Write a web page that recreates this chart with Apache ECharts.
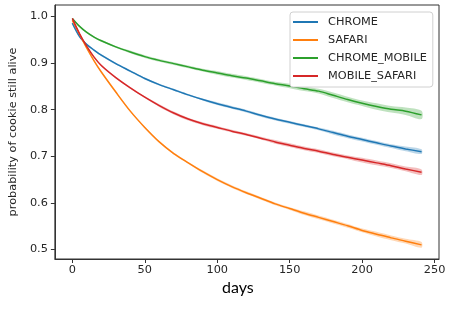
<!DOCTYPE html>
<html><head><meta charset="utf-8">
<script src="https://cdn.jsdelivr.net/npm/echarts@6/dist/echarts.min.js"></script>
<style>html,body{margin:0;padding:0;background:#fff}#c{width:463px;height:311px}</style>
</head><body><div id="c"></div>
<script>
const days = [0,5,10,15,20,30,40,50,60,70,80,90,100,110,120,130,140,150,160,170,180,190,200,210,220,230,241];
const chrome = [0.986,0.957,0.940,0.928,0.917,0.899,0.883,0.867,0.854,0.843,0.832,0.822,0.813,0.805,0.797,0.788,0.780,0.773,0.766,0.759,0.751,0.743,0.736,0.729,0.722,0.716,0.710];
const safari = [0.992,0.962,0.932,0.905,0.881,0.838,0.797,0.762,0.731,0.706,0.686,0.667,0.650,0.635,0.622,0.610,0.598,0.588,0.578,0.569,0.560,0.551,0.541,0.533,0.525,0.518,0.510];
const chromeMobile = [0.996,0.979,0.966,0.956,0.948,0.935,0.924,0.914,0.906,0.899,0.892,0.885,0.879,0.873,0.868,0.862,0.856,0.851,0.845,0.840,0.831,0.822,0.814,0.807,0.801,0.797,0.789];
const mobileSafari = [0.996,0.963,0.936,0.913,0.895,0.869,0.847,0.827,0.809,0.793,0.780,0.770,0.762,0.754,0.747,0.739,0.731,0.724,0.717,0.711,0.704,0.698,0.692,0.686,0.680,0.673,0.666];
// confidence half-widths
const ciChrome = [0.001,0.002,0.002,0.002,0.002,0.002,0.002,0.002,0.002,0.002,0.002,0.002,0.003,0.003,0.003,0.003,0.003,0.003,0.003,0.003,0.004,0.004,0.004,0.004,0.004,0.005,0.005];
const ciSafari = [0.001,0.002,0.002,0.002,0.002,0.002,0.002,0.002,0.002,0.002,0.002,0.003,0.003,0.003,0.003,0.003,0.003,0.003,0.004,0.004,0.004,0.004,0.004,0.005,0.005,0.005,0.006];
const ciChromeMobile = [0.001,0.002,0.002,0.002,0.002,0.002,0.003,0.003,0.003,0.003,0.003,0.003,0.004,0.004,0.004,0.004,0.004,0.005,0.005,0.005,0.006,0.006,0.006,0.007,0.007,0.008,0.009];
const ciMobileSafari = [0.001,0.002,0.002,0.002,0.002,0.002,0.002,0.002,0.003,0.003,0.003,0.003,0.003,0.003,0.003,0.003,0.004,0.004,0.004,0.004,0.004,0.004,0.005,0.005,0.005,0.005,0.006];
const names = ['CHROME','SAFARI','CHROME_MOBILE','MOBILE_SAFARI'];
const colors = ['#1f77b4','#ff7f0e','#2ca02c','#d62728'];
const xTicks = [0,50,100,150,200,250];
const yTicks = [0.5,0.6,0.7,0.8,0.9,1.0];

const vals = [chrome, safari, chromeMobile, mobileSafari];
const cis = [ciChrome, ciSafari, ciChromeMobile, ciMobileSafari];
const series = [];
vals.forEach((v, i) => {
  series.push({
    name: names[i] + '_band', type: 'custom', silent: true, z: 1,
    data: [[0, 0]],
    renderItem: function (params, api) {
      const upper = days.map((d, k) => api.coord([d, v[k] + cis[i][k]]));
      const lower = days.map((d, k) => api.coord([d, v[k] - cis[i][k]])).reverse();
      return {
        type: 'polygon',
        shape: { points: upper.concat(lower), smooth: 0.3 },
        style: { fill: colors[i], opacity: 0.3 }
      };
    }
  });
});
vals.forEach((v, i) => {
  series.push({
    name: names[i], type: 'line', symbol: 'none', smooth: 0.3, z: 3,
    color: colors[i],
    lineStyle: { width: 1.5, color: colors[i] },
    data: days.map((d, k) => [d, v[k]])
  });
});

const chart = echarts.init(document.getElementById('c'));
chart.setOption({
  animation: false,
  backgroundColor: '#fff',
  grid: { left: 49, right: 24, top: 5, bottom: 52, show: true, borderColor: '#333', borderWidth: 1, containLabel: false },
  legend: {
    data: names, orient: 'vertical', left: 290, top: 12,
    backgroundColor: '#fff', borderColor: '#d0d0d0', borderWidth: 1, borderRadius: 3,
    padding: [3, 6, 4, 3], itemGap: 4, itemWidth: 25, itemHeight: 2, icon: 'rect',
    textStyle: { fontFamily: 'DejaVu Sans', fontSize: 11.3, color: '#262626', lineHeight: 14, padding: [0,0,0,5] }
  },
  xAxis: {
    type: 'value', min: -12.05, max: 253.05,
    axisLine: { show: true, onZero: false, lineStyle: { color: '#333', width: 1 } },
    axisTick: { show: true, length: 4, lineStyle: { color: '#333' }, customValues: xTicks },
    axisLabel: { fontFamily: 'DejaVu Sans', fontSize: 11.3, color: '#262626', margin: 6, customValues: xTicks },
    splitLine: { show: false }
  },
  yAxis: {
    type: 'value', min: 0.4797, max: 1.0248,
    name: 'probability of cookie still alive', nameLocation: 'middle', nameGap: 33,
    nameTextStyle: { fontFamily: 'DejaVu Sans', fontSize: 11.3, color: '#262626' },
    axisLine: { show: true, onZero: false, lineStyle: { color: '#333', width: 1 } },
    axisTick: { show: true, length: 4, lineStyle: { color: '#333' }, customValues: yTicks },
    axisLabel: { fontFamily: 'DejaVu Sans', fontSize: 11.3, color: '#262626', margin: 7, customValues: yTicks, formatter: v => v.toFixed(1) },
    splitLine: { show: false }
  },
  graphic: [{
    type: 'text', left: 222, top: 280,
    style: { text: 'days', fontFamily: 'Lato', fontSize: 16, fill: '#000' }
  }],
  series: series
});
</script>
</body></html>
